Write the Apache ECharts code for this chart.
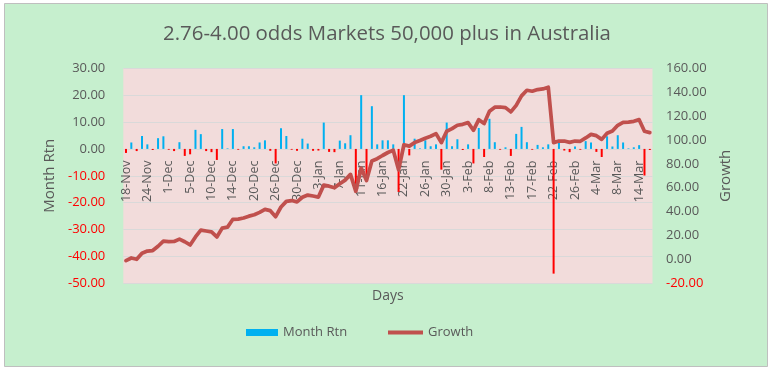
<!DOCTYPE html>
<html>
<head>
<meta charset="utf-8">
<script src="https://cdn.jsdelivr.net/npm/echarts@6/dist/echarts.min.js"></script>
<style>
html,body{margin:0;padding:0;background:#ffffff;}
#chart{width:774px;height:371px;}
</style>
</head>
<body>
<div id="chart"></div>
<script>
var titleText = '2.76-4.00 odds Markets 50,000 plus in Australia';

var days = [
 '18-Nov','19-Nov','21-Nov','22-Nov',
 '24-Nov','25-Nov','27-Nov','29-Nov',
 '1-Dec','2-Dec','3-Dec','4-Dec',
 '5-Dec','6-Dec','8-Dec','9-Dec',
 '10-Dec','11-Dec','12-Dec','13-Dec',
 '14-Dec','15-Dec','17-Dec','19-Dec',
 '20-Dec','21-Dec','22-Dec','23-Dec',
 '26-Dec','27-Dec','28-Dec','29-Dec',
 '30-Dec','31-Dec','1-Jan','2-Jan',
 '3-Jan','4-Jan','5-Jan','6-Jan',
 '7-Jan','8-Jan','9-Jan','10-Jan',
 '11-Jan','12-Jan','13-Jan','15-Jan',
 '16-Jan','17-Jan','19-Jan','20-Jan',
 '22-Jan','23-Jan','24-Jan','25-Jan',
 '26-Jan','27-Jan','28-Jan','29-Jan',
 '30-Jan','31-Jan','1-Feb','2-Feb',
 '3-Feb','5-Feb','6-Feb','7-Feb',
 '8-Feb','9-Feb','10-Feb','12-Feb',
 '13-Feb','14-Feb','15-Feb','16-Feb',
 '17-Feb','19-Feb','20-Feb','21-Feb',
 '22-Feb','23-Feb','24-Feb','25-Feb',
 '26-Feb','27-Feb','28-Feb','2-Mar',
 '4-Mar','5-Mar','6-Mar','7-Mar',
 '8-Mar','9-Mar','11-Mar','13-Mar',
 '14-Mar','15-Mar','16-Mar'
];

var monthRtn = [
 -1.5, 2.4, -0.8, 4.8, 1.7, -0.4, 4.0, 4.7, -0.3, -0.8,
 2.5, -2.6, -2.0, 7.1, 5.5, -0.8, -1.2, -4.1, 7.4, 0.2,
 7.4, -0.3, 1.0, 1.0, 0.6, 2.4, 3.2, -0.7, -5.4, 7.7,
 4.8, -0.3, -0.7, 3.8, 2.0, -0.7, -0.6, 9.8, -1.1, -1.2,
 3.1, 2.1, 5.1, -15.0, 20.0, -11.7, 15.9, 1.7, 3.2, 3.2,
 1.7, -16.0, 20.0, -2.4, 3.8, 0.2, 3.2, 1.0, 1.7, -7.7,
 9.8, 1.0, 3.6, -0.4, 1.7, -5.4, 7.8, -3.0, 11.2, 2.5,
 -0.3, 0.6, -2.6, 5.6, 8.2, 2.5, -0.3, 1.5, 0.6, 1.7,
 -46.4, 2.4, -0.6, -1.2, 0.9, -0.3, 2.9, 2.4, -1.1, -3.0,
 4.7, 0.9, 5.1, 2.4, 0.2, 0.6, 1.4, -9.9, -0.4
];

var growth = [
 -1.0, 1.2, 0.1, 5.2, 7.0, 7.4, 11.0, 15.3, 14.9, 15.0,
 17.0, 14.8, 12.1, 18.8, 24.5, 23.8, 23.0, 18.8, 26.2, 27.0,
 33.6, 33.8, 34.7, 36.2, 37.4, 39.4, 41.9, 40.8, 35.8, 43.9,
 48.6, 49.3, 48.2, 52.0, 53.9, 53.1, 52.2, 62.2, 61.3, 60.0,
 63.4, 66.4, 71.2, 57.0, 76.5, 66.0, 82.4, 84.3, 87.0, 89.5,
 91.4, 75.0, 96.0, 94.8, 97.8, 99.5, 101.5, 103.1, 105.3, 97.8,
 107.3, 109.5, 112.3, 113.1, 114.5, 108.1, 117.0, 113.7, 124.0, 127.4,
 127.6, 127.1, 123.5, 129.0, 136.9, 141.6, 140.8, 142.2, 142.7, 144.1,
 97.8, 99.1, 99.1, 98.0, 99.1, 98.9, 101.7, 104.7, 103.6, 100.5,
 105.6, 107.5, 112.3, 114.8, 115.0, 115.6, 117.0, 107.3, 106.2
];

var FONT = '"Open Sans", "Noto Sans", sans-serif';
var GREY = '#595959';

var chart = echarts.init(document.getElementById('chart'), null, {renderer: 'canvas'});

function labelColor(v) { return parseFloat(v) < 0 ? '#ff0000' : GREY; }
function fmt2(v) { return Number(v).toFixed(2); }

var option = {
  backgroundColor: '#ffffff',
  animation: false,
  textStyle: { fontFamily: FONT },
  graphic: [{
    type: 'rect', z: -10, silent: true,
    shape: { x: 4.5, y: 3.5, width: 763, height: 363 },
    style: { fill: '#c6efce', stroke: '#bfbfbf', lineWidth: 1 }
  }],
  title: {
    text: titleText,
    left: 'center', top: 22, padding: 0,
    textStyle: { fontFamily: FONT, fontSize: 20.4, fontWeight: 'normal', color: GREY, lineHeight: 24 }
  },
  legend: [{
    data: [{ name: 'Month Rtn', itemStyle: { color: '#00b0f0' } }],
    left: 246, top: 326, padding: 0,
    icon: 'rect', itemWidth: 32, itemHeight: 7,
    textStyle: { fontFamily: FONT, fontSize: 13, color: GREY }
  }, {
    data: [{ name: 'Growth', itemStyle: { color: '#c0504d' } }],
    left: 388, top: 326, padding: 0,
    icon: 'rect', itemWidth: 35, itemHeight: 4,
    textStyle: { fontFamily: FONT, fontSize: 13, color: GREY }
  }],
  grid: {
    left: 123.3, right: 121.5, top: 68.3, bottom: 87.7,
    show: true, backgroundColor: '#f2dcdb', borderWidth: 0,
    containLabel: false,
    outerBoundsMode: 'none'
  },
  xAxis: {
    type: 'category',
    data: days,
    position: 'bottom',
    offset: -134.7,
    name: 'Days',
    nameLocation: 'middle',
    nameGap: 140,
    nameTextStyle: { fontFamily: FONT, fontSize: 14, color: GREY },
    axisLine: { show: true, onZero: false, lineStyle: { color: '#d9d9d9', opacity: 0 } },
    axisTick: { show: false },
    axisLabel: {
      interval: 3, rotate: 90, margin: 12,
      fontFamily: FONT, fontSize: 12.5, color: GREY
    },
    splitLine: { show: false },
    z: 0
  },
  yAxis: [{
    type: 'value',
    min: -50, max: 30, interval: 10,
    name: 'Month Rtn',
    nameLocation: 'middle',
    nameGap: 59,
    nameTextStyle: { fontFamily: FONT, fontSize: 15, color: GREY },
    axisLine: { show: false, onZero: false },
    axisTick: { show: false },
    axisLabel: { margin: 18, fontFamily: FONT, fontSize: 13, formatter: fmt2, color: labelColor },
    splitLine: { show: true, lineStyle: { color: '#d9d9d9', width: 1 } }
  }, {
    type: 'value',
    min: -20, max: 160, interval: 20,
    name: 'Growth',
    nameLocation: 'middle',
    nameGap: 66,
    nameRotate: 90,
    nameTextStyle: { fontFamily: FONT, fontSize: 15, color: GREY },
    axisLine: { show: false, onZero: false },
    axisTick: { show: false },
    axisLabel: { margin: 13.5, fontFamily: FONT, fontSize: 13, formatter: fmt2, color: labelColor },
    splitLine: { show: false }
  }],
  series: [{
    name: 'Month Rtn',
    type: 'bar',
    yAxisIndex: 0,
    data: monthRtn,
    barWidth: 2,
    itemStyle: {
      color: function (p) { return p.value < 0 ? '#ff0000' : '#00b0f0'; }
    }
  }, {
    name: 'Growth',
    type: 'line',
    yAxisIndex: 1,
    data: growth,
    symbol: 'none',
    lineStyle: { color: '#c0504d', width: 3.75, cap: 'round', join: 'round' },
    itemStyle: { color: '#c0504d' },
    z: 5
  }]
};
chart.setOption(option);
</script>
</body>
</html>
